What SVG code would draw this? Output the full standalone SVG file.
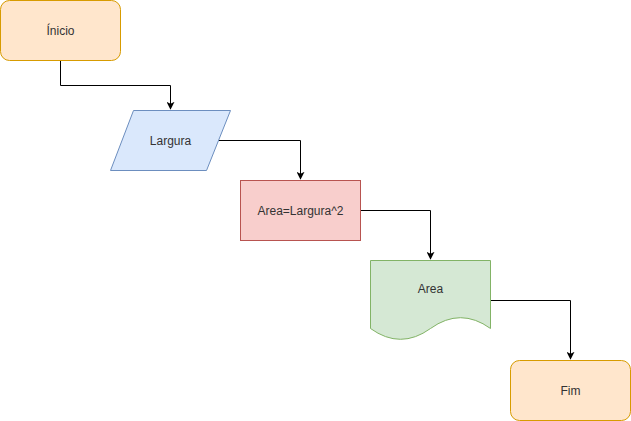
<svg xmlns="http://www.w3.org/2000/svg" width="631" height="421" viewBox="0 0 631 421">
<defs>
<style>
text{font-family:"Liberation Sans",Arial,sans-serif;font-size:12px;fill:#333333;text-anchor:middle;dominant-baseline:central}
.edge{fill:none;stroke:#000;stroke-width:1}
.term{fill:#ffe6cc;stroke:#d79b00}
</style>
<marker id="arr" viewBox="0 0 10 10" refX="9" refY="5" markerWidth="8" markerHeight="8" markerUnits="userSpaceOnUse" orient="auto">
<path d="M0,0 L10,5 L0,10 L2.5,5 Z" fill="#000"/>
</marker>
</defs>
<rect width="631" height="421" fill="#fff"/>
<g id="connectors">
<path class="edge" d="M60.5,60.5 V85.5 H170.5 V109" marker-end="url(#arr)"/>
<path class="edge" d="M218,140.5 H300.5 V179" marker-end="url(#arr)"/>
<path class="edge" d="M360.5,210.5 H430.5 V259" marker-end="url(#arr)"/>
<path class="edge" d="M490.5,300.5 H570.5 V359" marker-end="url(#arr)"/>
</g>
<g id="inicio">
<rect class="term" x="0.5" y="0.5" width="120" height="60" rx="9"/>
<text x="60.5" y="30.5">Ínicio</text>
</g>
<g id="largura">
<path d="M133.5,110.5 H230.5 L206.5,170.5 H110.5 Z" fill="#dae8fc" stroke="#6c8ebf"/>
<text x="170.5" y="140.5">Largura</text>
</g>
<g id="area-calc">
<rect x="240.5" y="180.5" width="120" height="60" fill="#f8cecc" stroke="#b85450"/>
<text x="300.5" y="210.5">Area=Largura^2</text>
</g>
<g id="area-doc">
<path d="M370.5,260.5 H490.5 V328.5 Q460.5,306.9 430.5,328.5 Q400.5,350.1 370.5,328.5 Z" fill="#d5e8d4" stroke="#82b366"/>
<text x="430.5" y="289">Area</text>
</g>
<g id="fim">
<rect class="term" x="510.5" y="360.5" width="120" height="60" rx="9"/>
<text x="570.5" y="390.5">Fim</text>
</g>
</svg>
